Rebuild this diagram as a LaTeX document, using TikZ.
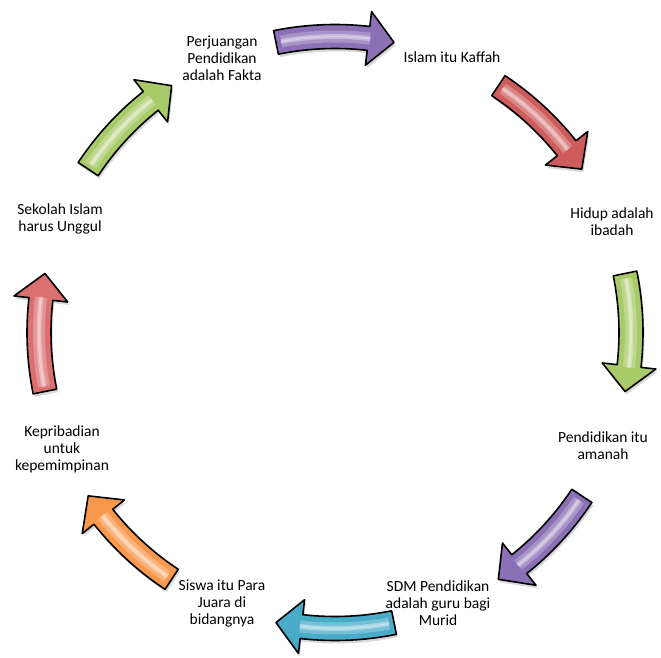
\documentclass[tikz,border=0pt]{standalone}
\usepackage{fontspec}
\setmainfont{Carlito}
\definecolor{purpleA}{RGB}{140,112,182}
\definecolor{redA}{RGB}{206,92,92}
\definecolor{greenA}{RGB}{168,202,104}
\definecolor{cyanA}{RGB}{72,172,200}
\definecolor{orangeA}{RGB}{247,152,76}
\definecolor{redB}{RGB}{218,112,112}
\tikzset{
  lbl/.style={align=center, font=\fontsize{15.5}{17}\selectfont, text=black, inner sep=0pt},
  arrowline/.style={draw=black, line width=1.6pt, line join=round},
}
\newcommand{\arrowshape}{(\aone:308pt) arc[start angle=\aone,end angle=\ab,radius=308pt] -- (\ab:323pt) -- (\atwo:296pt) -- (\ab:269pt) -- (\ab:284pt) arc[start angle=\ab,end angle=\aone,radius=284pt] -- cycle}
\newcommand{\cycarrow}[2]{%
  \pgfmathsetmacro\aone{#1+11.5}%
  \pgfmathsetmacro\atwo{#1-11.5}%
  \pgfmathsetmacro\ab{#1-11.5+5.0}%
  \pgfmathsetmacro\gone{#1+10.5}%
  \pgfmathsetmacro\gtwo{#1-6.8}%
  \begin{scope}[shift={(1.5pt,-3pt)}]
    \fill[black, opacity=0.15] \arrowshape;
  \end{scope}
  \fill[#2] \arrowshape;
  \draw[#2!55!white, line width=12pt, opacity=0.55] (\gone:296pt) arc[start angle=\gone,end angle=\gtwo,radius=296pt];
  \draw[#2!25!white, line width=5pt, opacity=0.5] (\gone:296pt) arc[start angle=\gone,end angle=\gtwo,radius=296pt];
  \draw[white, line width=1.8pt, opacity=0.3, line cap=round] (\gone:296pt) arc[start angle=\gone,end angle=\gtwo,radius=296pt];
  \draw[arrowline] \arrowshape;
}
\begin{document}
\begin{tikzpicture}[x=1pt,y=1pt]
\useasboundingbox (0,0) rectangle (661,657);
\begin{scope}[shift={(335,324.5)}]
  \cycarrow{90}{purpleA}
  \cycarrow{45}{redA}
  \cycarrow{0}{greenA}
  \cycarrow{-45}{purpleA}
  \cycarrow{-90}{cyanA}
  \cycarrow{-135}{orangeA}
  \cycarrow{180}{redB}
  \cycarrow{135}{greenA}
\end{scope}
\node[lbl] (t1) at (222,599) {Perjuangan\\Pendidikan\\adalah Fakta};
\node[lbl] (t2) at (452,600) {Islam itu Kaffah};
\node[lbl] (t3) at (612,435) {Hidup adalah\\ibadah};
\node[lbl] (t4) at (603,211) {Pendidikan itu\\amanah};
\node[lbl] (t5) at (438,54) {SDM Pendidikan\\adalah guru bagi\\Murid};
\node[lbl] (t6) at (222,54) {Siswa itu Para\\Juara di\\bidangnya};
\node[lbl] (t7) at (62,208) {Kepribadian\\untuk\\kepemimpinan};
\node[lbl] (t8) at (60,438) {Sekolah Islam\\harus Unggul};
\end{tikzpicture}
\end{document}
